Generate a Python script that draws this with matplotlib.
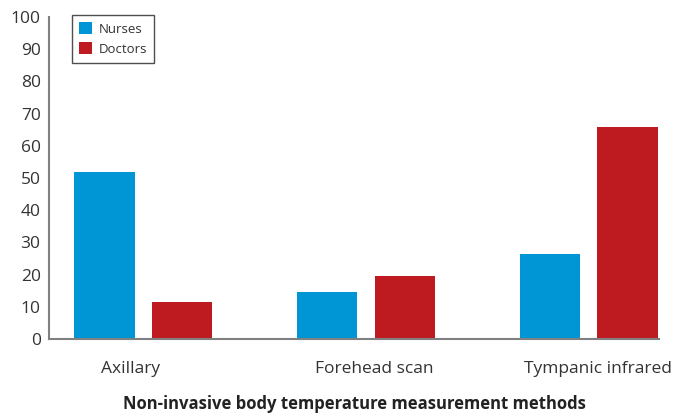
import numpy as np
import matplotlib
matplotlib.use("Agg")
import matplotlib.pyplot as plt

# survey results (%)
methods = ["Axillary", "Forehead scan", "Tympanic infrared"]
nurses = [52, 14.5, 26.5]
doctors = [11.5, 19.5, 66]
yticks = list(range(0, 101, 10))

plt.rcParams["font.family"] = ["Open Sans", "DejaVu Sans"]

fig = plt.figure(figsize=(6.75, 4.15), dpi=100)
ax = fig.add_axes([0.0726, 0.183, 0.904, 0.776])

x = np.arange(len(methods))
w = 0.27
ax.bar(x - 0.175, nurses, w, color="#0096d6", label="Nurses")
ax.bar(x + 0.172, doctors, w, color="#be1b21", label="Doctors")

ax.set_xlim(-0.424, 2.314)
ax.set_ylim(0, 100)
ax.set_yticks(yticks)
ax.set_xticks(x + np.array([-0.06, 0.036, 0.04]))
ax.set_xticklabels(methods)
ax.tick_params(length=0, labelsize=12.5, colors="#333333", pad=6)
ax.tick_params(axis="x", pad=16)

for s in ["top", "right"]:
    ax.spines[s].set_visible(False)
for s in ["left", "bottom"]:
    ax.spines[s].set_color("#808080")
    ax.spines[s].set_linewidth(1.5)

ax.set_xlabel("Non-invasive body temperature measurement methods",
              fontsize=12, fontweight="bold", color="#222222", labelpad=13)

leg = ax.legend(loc="upper left", bbox_to_anchor=(0.037, 1.006), fontsize=9.5,
                frameon=True, fancybox=False, edgecolor="#222222",
                handlelength=1.0, handleheight=1.0, handletextpad=0.5,
                borderpad=0.55, labelspacing=0.5, borderaxespad=0)
leg.get_frame().set_linewidth(1.0)
for t in leg.get_texts():
    t.set_color("#333333")

fig.savefig("out.png", dpi=100)
